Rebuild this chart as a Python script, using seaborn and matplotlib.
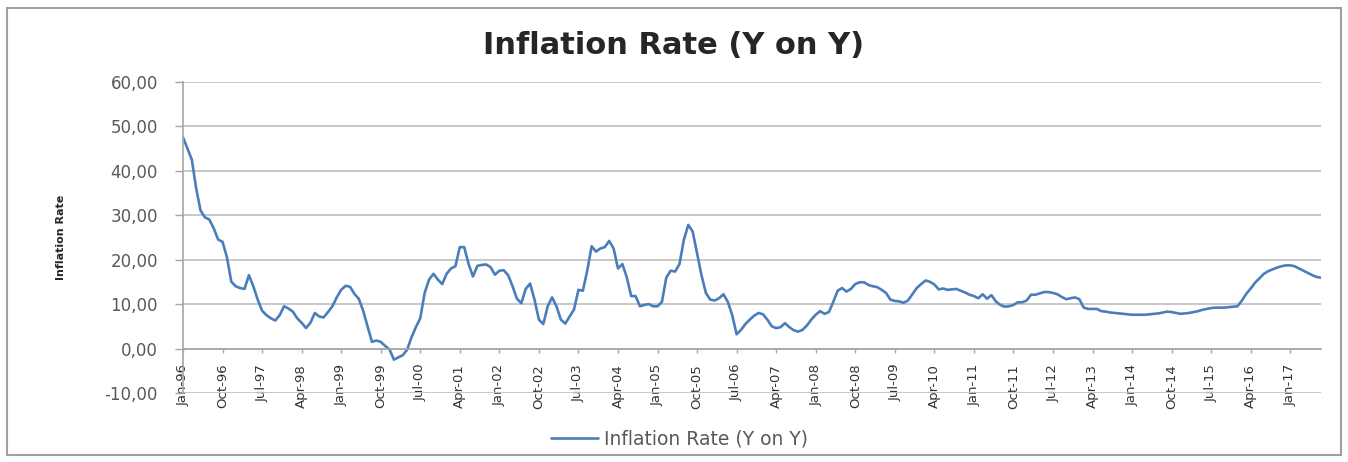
import matplotlib
matplotlib.use("Agg")
import matplotlib.pyplot as plt
from matplotlib.patches import Rectangle
from matplotlib.ticker import FuncFormatter
import numpy as np
import pandas as pd
import seaborn as sns

# Monthly year-on-year inflation rate, Jan 1996 to Aug 2017
rate_1996 = [47.5, 45.0, 42.5, 36.0, 31.0, 29.5, 29.0, 27.0, 24.5, 24.0, 20.5, 15.0]
rate_1997 = [14.0, 13.6, 13.4, 16.5, 14.0, 11.0, 8.5, 7.5, 6.8, 6.3, 7.5, 9.5]
rate_1998 = [9.0, 8.3, 6.8, 5.8, 4.6, 5.8, 8.0, 7.2, 7.0, 8.2, 9.5, 11.5]
rate_1999 = [13.2, 14.1, 13.9, 12.3, 11.2, 8.5, 5.0, 1.5, 1.8, 1.5, 0.6, -0.2]
rate_2000 = [-2.5, -2.0, -1.5, -0.3, 2.5, 4.8, 6.8, 12.5, 15.5, 16.8, 15.5, 14.5]
rate_2001 = [16.8, 18.0, 18.5, 22.8, 22.8, 19.0, 16.2, 18.6, 18.8, 18.9, 18.3, 16.6]
rate_2002 = [17.5, 17.6, 16.5, 14.0, 11.2, 10.2, 13.4, 14.6, 11.0, 6.5, 5.5, 9.5]
rate_2003 = [11.5, 9.5, 6.5, 5.6, 7.2, 8.8, 13.2, 13.0, 17.5, 23.0, 21.8, 22.5]
rate_2004 = [22.8, 24.2, 22.5, 18.0, 19.0, 16.0, 11.8, 11.8, 9.5, 9.8, 10.0, 9.5]
rate_2005 = [9.5, 10.5, 16.0, 17.5, 17.3, 19.0, 24.5, 27.8, 26.3, 21.4, 16.5, 12.5]
rate_2006 = [11.0, 10.8, 11.3, 12.2, 10.5, 7.5, 3.2, 4.2, 5.5, 6.5, 7.4, 8.0]
rate_2007 = [7.7, 6.5, 5.0, 4.6, 4.8, 5.7, 4.8, 4.1, 3.8, 4.2, 5.2, 6.5]
rate_2008 = [7.6, 8.4, 7.8, 8.2, 10.5, 13.0, 13.6, 12.8, 13.4, 14.5, 14.9, 14.9]
rate_2009 = [14.3, 14.0, 13.8, 13.2, 12.5, 11.0, 10.7, 10.6, 10.3, 10.8, 12.2, 13.6]
rate_2010 = [14.5, 15.3, 15.0, 14.4, 13.3, 13.5, 13.2, 13.3, 13.4, 13.0, 12.6, 12.1]
rate_2011 = [11.8, 11.3, 12.2, 11.2, 12.0, 10.6, 9.8, 9.4, 9.5, 9.8, 10.4, 10.4]
rate_2012 = [10.8, 12.1, 12.1, 12.4, 12.7, 12.7, 12.5, 12.2, 11.6, 11.1, 11.3, 11.5]
rate_2013 = [11.1, 9.2, 8.9, 8.9, 8.9, 8.4, 8.3, 8.1, 8.0, 7.9, 7.8, 7.7]
rate_2014 = [7.6, 7.6, 7.6, 7.6, 7.7, 7.8, 7.9, 8.1, 8.3, 8.2, 8.0, 7.8]
rate_2015 = [7.9, 8.0, 8.2, 8.4, 8.7, 8.9, 9.1, 9.2, 9.2, 9.2, 9.3, 9.4]
rate_2016 = [9.5, 10.8, 12.3, 13.5, 14.8, 15.8, 16.8, 17.4, 17.8, 18.2, 18.5, 18.7]
rate_2017 = [18.7, 18.5, 18.0, 17.5, 17.0, 16.5, 16.1, 15.9]

tick_labels = ["Jan-96", "Oct-96", "Jul-97", "Apr-98", "Jan-99", "Oct-99", "Jul-00",
               "Apr-01", "Jan-02", "Oct-02", "Jul-03", "Apr-04", "Jan-05", "Oct-05",
               "Jul-06", "Apr-07", "Jan-08", "Oct-08", "Jul-09", "Apr-10", "Jan-11",
               "Oct-11", "Jul-12", "Apr-13", "Jan-14", "Oct-14", "Jul-15", "Apr-16",
               "Jan-17"]
y_ticks = [-10, 0, 10, 20, 30, 40, 50, 60]
series_name = "Inflation Rate (Y on Y)"

rates = (rate_1996 + rate_1997 + rate_1998 + rate_1999 + rate_2000 + rate_2001 +
         rate_2002 + rate_2003 + rate_2004 + rate_2005 + rate_2006 + rate_2007 +
         rate_2008 + rate_2009 + rate_2010 + rate_2011 + rate_2012 + rate_2013 +
         rate_2014 + rate_2015 + rate_2016 + rate_2017)
df = pd.DataFrame({"month": np.arange(len(rates)), "rate": rates})

sns.set_style("white")
plt.rcParams["font.family"] = ["DejaVu Sans"]

fig = plt.figure(figsize=(13.48, 4.62), dpi=100)
ax = fig.add_axes([183 / 1348, 1 - 393 / 462, (1321 - 183) / 1348, (393 - 81.7) / 462])

sns.lineplot(data=df, x="month", y="rate", ax=ax, color="#4a7ebb",
             linewidth=1.9, label=series_name)

ax.set_xlim(0, len(rates) - 1)
ax.set_ylim(-10, 60)

ax.set_yticks(y_ticks)
ax.yaxis.set_major_formatter(FuncFormatter(lambda v, _: f"{v:.2f}".replace(".", ",")))
ax.set_xticks(np.arange(0, len(rates), 9)[:len(tick_labels)])
ax.set_xticklabels(tick_labels)

ax.grid(axis="y", color="#c4c4c4", linewidth=1.3)
ax.set_axisbelow(True)

for side in ("top", "right"):
    ax.spines[side].set_visible(False)
ax.spines["bottom"].set_position(("data", 0))
ax.spines["bottom"].set_color("#a6a6a6")
ax.spines["bottom"].set_linewidth(1.2)
ax.spines["left"].set_color("#a6a6a6")
ax.spines["left"].set_linewidth(1.2)

ax.tick_params(axis="y", direction="out", length=6, width=1, color="#a6a6a6",
               pad=12, labelsize=12, labelcolor="#595959", left=True)
ax.tick_params(axis="x", direction="out", length=3, width=1, color="#a6a6a6",
               pad=8, labelsize=9.5, labelcolor="#333333", bottom=True,
               labelrotation=90)

ax.set_xlabel("")
ax.set_ylabel("Inflation Rate", fontsize=8, fontweight="bold", color="#262626")
ax.yaxis.set_label_coords(-0.103, 0.5)

fig.text(0.5, 1 - 45 / 462, series_name, ha="center", va="center",
         fontsize=22, fontweight="bold", color="#262626")

handles, labels = ax.get_legend_handles_labels()
ax.get_legend().remove()
fig.legend(handles, labels, loc="center", bbox_to_anchor=(0.504, 1 - 439 / 462),
           frameon=False, fontsize=13.5, labelcolor="#595959",
           handlelength=2.5, handletextpad=0.3)

fig.patches.append(Rectangle((7 / 1348, 1 - 455 / 462), (1341 - 7) / 1348,
                             (455 - 8) / 462, transform=fig.transFigure,
                             fill=False, edgecolor="#a0a0a0", linewidth=1.5))

fig.savefig("out.png", dpi=100, facecolor="white")
